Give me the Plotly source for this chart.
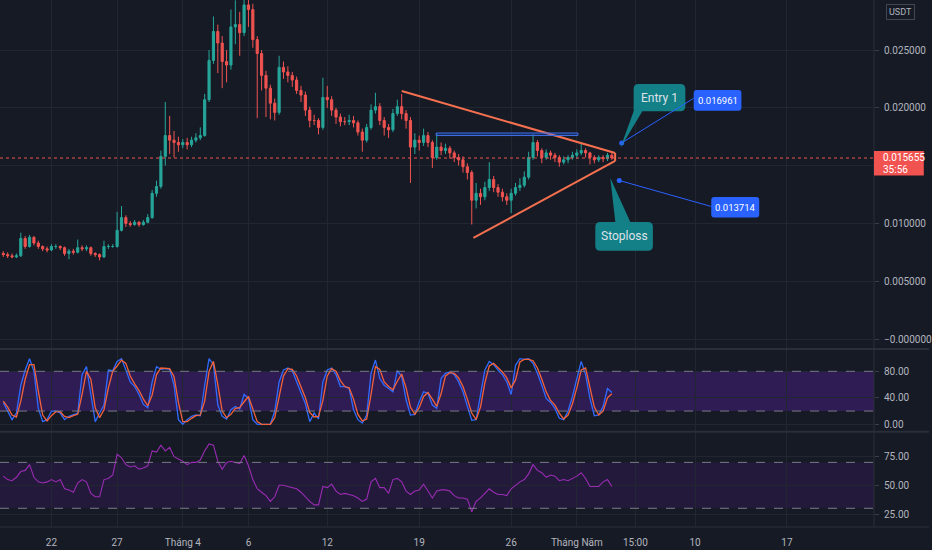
import pandas as pd
import plotly.graph_objects as go
from plotly.subplots import make_subplots

# 8h bars
times = pd.date_range("2021-03-18 08:00", periods=140, freq="8h")

close = [
    0.0073, 0.0072, 0.0071, 0.0072, 0.0087, 0.0080, 0.0088, 0.0083, 0.0080, 0.0078,
    0.0077, 0.0080, 0.0080, 0.0079, 0.0074, 0.0076, 0.0075, 0.0079, 0.0078, 0.0079,
    0.0074, 0.0073, 0.0071, 0.0080, 0.0080, 0.0080, 0.0094, 0.0105, 0.0100, 0.0099,
    0.0101, 0.0099, 0.0101, 0.0105, 0.0126, 0.0132, 0.0158, 0.0176, 0.0172, 0.0170,
    0.0168, 0.0170, 0.0168, 0.0172, 0.0174, 0.0176, 0.0207, 0.0241, 0.0266, 0.0256,
    0.0240, 0.0237, 0.0270, 0.0272, 0.0265, 0.0289, 0.0285, 0.0259, 0.0247, 0.0228,
    0.0217, 0.0204, 0.0196, 0.0235, 0.0231, 0.0228, 0.0224, 0.0215, 0.0211, 0.0198,
    0.0189, 0.0189, 0.0183, 0.0209, 0.0207, 0.0198, 0.0192, 0.0188, 0.0188, 0.0189,
    0.0187, 0.0179, 0.0172, 0.0183, 0.0198, 0.0201, 0.0189, 0.0183, 0.0181, 0.0195,
    0.0201, 0.0195, 0.0189, 0.0166, 0.0172, 0.0170, 0.0176, 0.0170, 0.0157, 0.0166,
    0.0163, 0.0165, 0.0161, 0.0157, 0.0155, 0.0149, 0.0144, 0.0120, 0.0126, 0.0123,
    0.0131, 0.0138, 0.0131, 0.0127, 0.0123, 0.0120, 0.0126, 0.0131, 0.0133, 0.0140,
    0.0157, 0.0170, 0.0163, 0.0157, 0.0161, 0.0159, 0.0157, 0.0153, 0.0155, 0.0157,
    0.0159, 0.0161, 0.0163, 0.0161, 0.0157, 0.0155, 0.0157, 0.0156, 0.0159, 0.015655,
]
high = [
    0.0076, 0.0075, 0.0074, 0.0074, 0.0092, 0.0089, 0.0090, 0.0089, 0.0085, 0.0081,
    0.0080, 0.0082, 0.0082, 0.0081, 0.0080, 0.0078, 0.0078, 0.0086, 0.0081, 0.0081,
    0.0080, 0.0075, 0.0074, 0.0085, 0.0082, 0.0082, 0.0110, 0.0115, 0.0107, 0.0102,
    0.0103, 0.0102, 0.0103, 0.0108, 0.0129, 0.0137, 0.0163, 0.0205, 0.0193, 0.0180,
    0.0175, 0.0173, 0.0174, 0.0175, 0.0178, 0.0183, 0.0212, 0.0250, 0.0279, 0.0272,
    0.0262, 0.0250, 0.0285, 0.0293, 0.0283, 0.0300, 0.0300, 0.0290, 0.0262, 0.0250,
    0.0232, 0.0220, 0.0208, 0.0245, 0.0240, 0.0236, 0.0231, 0.0227, 0.0219, 0.0214,
    0.0201, 0.0194, 0.0191, 0.0226, 0.0219, 0.0210, 0.0200, 0.0195, 0.0192, 0.0194,
    0.0193, 0.0189, 0.0182, 0.0186, 0.0203, 0.0213, 0.0204, 0.0192, 0.0186, 0.0199,
    0.0207, 0.0212, 0.0198, 0.0192, 0.0178, 0.0176, 0.0182, 0.0179, 0.0172, 0.0178,
    0.0170, 0.0169, 0.0167, 0.0163, 0.0160, 0.0158, 0.0152, 0.0146, 0.0135, 0.0130,
    0.0136, 0.0153, 0.0141, 0.0134, 0.0130, 0.0126, 0.0130, 0.0135, 0.0139, 0.0145,
    0.0162, 0.0177, 0.0172, 0.0165, 0.0164, 0.0163, 0.0161, 0.0159, 0.0158, 0.0159,
    0.0162, 0.0164, 0.0169, 0.0165, 0.0162, 0.0159, 0.0159, 0.0159, 0.0161, 0.0161,
]
low = [
    0.0071, 0.0070, 0.0070, 0.0070, 0.0071, 0.0078, 0.0079, 0.0081, 0.0078, 0.0076,
    0.0075, 0.0076, 0.0078, 0.0077, 0.0072, 0.0069, 0.0073, 0.0074, 0.0076, 0.0076,
    0.0072, 0.0071, 0.0068, 0.0070, 0.0078, 0.0079, 0.0079, 0.0093, 0.0097, 0.0097,
    0.0098, 0.0097, 0.0098, 0.0100, 0.0104, 0.0123, 0.0130, 0.0150, 0.0160, 0.0157,
    0.0162, 0.0165, 0.0164, 0.0166, 0.0170, 0.0172, 0.0175, 0.0205, 0.0238, 0.0230,
    0.0217, 0.0222, 0.0233, 0.0255, 0.0245, 0.0262, 0.0270, 0.0252, 0.0191, 0.0215,
    0.0192, 0.0190, 0.0189, 0.0194, 0.0225, 0.0222, 0.0218, 0.0212, 0.0205, 0.0193,
    0.0183, 0.0185, 0.0177, 0.0181, 0.0200, 0.0193, 0.0186, 0.0184, 0.0185, 0.0185,
    0.0183, 0.0176, 0.0162, 0.0170, 0.0181, 0.0195, 0.0185, 0.0176, 0.0174, 0.0179,
    0.0193, 0.0190, 0.0182, 0.0135, 0.0160, 0.0163, 0.0167, 0.0166, 0.0148, 0.0155,
    0.0159, 0.0160, 0.0156, 0.0153, 0.0150, 0.0144, 0.0138, 0.0099, 0.0113, 0.0116,
    0.0120, 0.0128, 0.0127, 0.0123, 0.0119, 0.0116, 0.0109, 0.0124, 0.0128, 0.0131,
    0.0138, 0.0155, 0.0158, 0.0152, 0.0155, 0.0155, 0.0153, 0.0149, 0.0151, 0.0152,
    0.0155, 0.0156, 0.0159, 0.0157, 0.0151, 0.0152, 0.0153, 0.0153, 0.0154, 0.0155,
]
first_open = 0.0074
open_ = [first_open] + close[:-1]

stoch_k = [
    33, 20, 7, 17, 59, 82, 99, 80, 24, 4, 7, 20, 20, 17, 7, 12, 14, 17, 75, 87,
    45, 4, 17, 29, 82, 81, 95, 99, 82, 64, 57, 45, 30, 25, 64, 87, 83, 84, 83, 59,
    7, 0, 7, 12, 14, 13, 59, 99, 90, 29, 12, 8, 22, 27, 23, 45, 39, 7, 0, 0,
    0, 0, 20, 64, 82, 85, 81, 64, 49, 31, 4, 17, 8, 64, 82, 85, 75, 57, 57, 54,
    22, 7, 2, 14, 77, 97, 69, 59, 54, 49, 81, 72, 37, 14, 15, 34, 49, 47, 29, 24,
    69, 77, 79, 75, 64, 49, 27, 6, 7, 45, 82, 95, 90, 82, 75, 64, 45, 89, 99, 98,
    99, 92, 77, 59, 39, 33, 24, 9, 7, 20, 42, 69, 95, 75, 39, 13, 14, 27, 54, 48,
]
stoch_d = [
    35, 26, 14, 11, 35, 68, 90, 90, 50, 14, 5, 13, 19, 19, 12, 10, 13, 15, 45, 80,
    68, 25, 10, 22, 55, 80, 88, 97, 92, 73, 61, 51, 38, 28, 44, 75, 85, 84, 84, 72,
    33, 4, 4, 9, 13, 14, 35, 80, 95, 60, 20, 10, 15, 24, 25, 34, 42, 23, 4, 0,
    0, 0, 10, 42, 73, 84, 83, 73, 57, 40, 18, 11, 12, 36, 73, 84, 80, 66, 57, 55,
    38, 15, 5, 8, 45, 87, 83, 64, 57, 52, 65, 76, 55, 26, 15, 25, 42, 48, 38, 27,
    46, 73, 78, 77, 70, 57, 38, 17, 7, 26, 63, 88, 92, 86, 79, 70, 55, 67, 94, 98,
    98, 96, 85, 68, 49, 36, 29, 17, 8, 14, 31, 55, 82, 85, 57, 26, 14, 20, 40, 46,
]
rsi = [
    58, 55, 54, 57, 62, 63, 68, 57, 53, 52, 53, 55, 53, 55, 47, 46, 44, 52, 55, 53,
    43, 40, 40, 55, 56, 59, 77, 74, 68, 66, 67, 64, 65, 67, 80, 79, 85, 80, 83, 75,
    73, 71, 68, 70, 70, 72, 80, 86, 85, 71, 64, 70, 71, 70, 69, 76, 67, 55, 47, 44,
    41, 36, 40, 50, 50, 49, 48, 47, 44, 40, 36, 33, 33, 49, 48, 51, 45, 42, 43, 42,
    41, 39, 36, 38, 53, 56, 48, 48, 43, 55, 56, 53, 45, 42, 45, 46, 51, 45, 39, 45,
    46, 46, 45, 41, 39, 39, 38, 27, 36, 39, 43, 47, 44, 42, 42, 41, 47, 50, 53, 55,
    60, 68, 63, 61, 57, 59, 58, 54, 55, 54, 56, 58, 61, 56, 49, 49, 49, 53, 55, 49,
]

last_price = 0.015655
countdown = "35:56"
entry_price = 0.016961
stop_price = 0.013714
entry_time = "2021-05-04 10:00"
stop_time = "2021-05-04 05:30"

# drawings
upper_t = ["2021-04-17 16:00", "2021-05-03 22:00"]
upper_p = [0.02145, 0.01609]
lower_t = ["2021-04-23 03:00", "2021-05-03 22:00"]
lower_p = [0.00874, 0.01540]
range_t = ["2021-04-20 07:00", "2021-05-01 02:00"]
range_p = [0.01760, 0.01782]
entry_tip = ("2021-05-04 07:30", 0.016522)
stop_tip = ("2021-05-03 13:10", 0.013927)

tick_dates = ["2021-03-22", "2021-03-27", "2021-04-01", "2021-04-06", "2021-04-12",
              "2021-04-19", "2021-04-26", "2021-05-01", "2021-05-05 11:00",
              "2021-05-10", "2021-05-17"]
tick_labels = ["22", "27", "Tháng 4", "6", "12", "19", "26", "Tháng Năm", "15:00",
               "10", "17"]

BG = "#161a25"
GRID = "#222631"
TXT = "#b2b5be"
UP = "#26a69a"
DOWN = "#ef5350"
TREND = "#f5704f"
BLUE = "#2962ff"
TEAL = "#137f87"
SEP = "#2a2e39"
FONT = "Roboto"

fig = make_subplots(rows=3, cols=1, shared_xaxes=True, vertical_spacing=0)

fig.add_trace(go.Candlestick(
    x=times, open=open_, high=high, low=low, close=close,
    increasing=dict(line=dict(color=UP, width=1), fillcolor=UP),
    decreasing=dict(line=dict(color=DOWN, width=1), fillcolor=DOWN),
    whiskerwidth=0, showlegend=False, hoverinfo="skip"), row=1, col=1)

fig.add_trace(go.Scatter(x=[entry_time, stop_time], y=[entry_price, stop_price],
                         mode="markers", marker=dict(size=5, color=BLUE),
                         showlegend=False, hoverinfo="skip"), row=1, col=1)

fig.add_trace(go.Scatter(x=times, y=stoch_k, mode="lines",
                         line=dict(color="#2f6bff", width=1.3),
                         showlegend=False, hoverinfo="skip"), row=2, col=1)
fig.add_trace(go.Scatter(x=times, y=stoch_d, mode="lines",
                         line=dict(color="#f4623a", width=1.3),
                         showlegend=False, hoverinfo="skip"), row=2, col=1)

fig.add_trace(go.Scatter(x=times, y=rsi, mode="lines",
                         line=dict(color="#9a2bb3", width=1.1),
                         showlegend=False, hoverinfo="skip"), row=3, col=1)


def rrect(x0, y0, x1, y1, r):
    return (f"M {x0 + r},{y0} L {x1 - r},{y0} Q {x1},{y0} {x1},{y0 + r} "
            f"L {x1},{y1 - r} Q {x1},{y1} {x1 - r},{y1} L {x0 + r},{y1} "
            f"Q {x0},{y1} {x0},{y1 - r} L {x0},{y0 + r} Q {x0},{y0} {x0 + r},{y0} Z")


def pix_shape(anchor, path, fill=None, line_color=None, width=0):
    d = dict(type="path", xref="x", yref="y", xsizemode="pixel", ysizemode="pixel",
             xanchor=anchor[0], yanchor=anchor[1], path=path,
             line=dict(width=width, color=line_color or "rgba(0,0,0,0)"))
    if fill:
        d["fillcolor"] = fill
    return d


shapes = []
# indicator bands
shapes.append(dict(type="rect", xref="paper", yref="y2", x0=0, x1=1, y0=20, y1=80,
                   fillcolor="#301c55", line=dict(width=0), layer="below"))
shapes.append(dict(type="rect", xref="paper", yref="y3", x0=0, x1=1, y0=30, y1=70,
                   fillcolor="#231a3b", line=dict(width=0), layer="below"))
for yr, lv in [("y2", 80), ("y2", 20), ("y3", 70), ("y3", 30)]:
    shapes.append(dict(type="line", xref="paper", yref=yr, x0=0, x1=1, y0=lv, y1=lv,
                       line=dict(color="#787b86", width=1, dash="dash")))

# last price line
shapes.append(dict(type="line", xref="paper", yref="y", x0=0, x1=1,
                   y0=last_price, y1=last_price,
                   line=dict(color=DOWN, width=1, dash="dot")))

# triangle + range box
shapes.append(dict(type="line", xref="x", yref="y", x0=upper_t[0], x1=upper_t[1],
                   y0=upper_p[0], y1=upper_p[1], line=dict(color=TREND, width=2)))
shapes.append(dict(type="line", xref="x", yref="y", x0=lower_t[0], x1=lower_t[1],
                   y0=lower_p[0], y1=lower_p[1], line=dict(color=TREND, width=2)))
shapes.append(dict(type="line", xref="x", yref="y", x0=upper_t[1], x1=lower_t[1],
                   y0=upper_p[1], y1=lower_p[1], line=dict(color=TREND, width=2)))
shapes.append(dict(type="rect", xref="x", yref="y", x0=range_t[0], x1=range_t[1],
                   y0=range_p[0], y1=range_p[1], fillcolor="rgba(41,98,255,0.25)",
                   line=dict(color="#3d6fe8", width=1)))

# callouts
shapes.append(pix_shape(entry_tip,
                        "M 0,0 L 22,36.7 L 60,36.7 Q 65,36.7 65,41.7 L 65,59 "
                        "Q 65,64 60,64 L 18.3,64 Q 13.3,64 13.3,59 L 13.3,36.7 Z",
                        fill=TEAL))
shapes.append(pix_shape(stop_tip,
                        "M 0,0 L 20,-44 L 37.6,-44 Q 42.6,-44 42.6,-49 L 42.6,-67.7 "
                        "Q 42.6,-72.7 37.6,-72.7 L -10,-72.7 Q -15,-72.7 -15,-67.7 "
                        "L -15,-49 Q -15,-44 -10,-44 L 5,-44 Z", fill=TEAL))

# price labels with leader lines
entry_anchor = (entry_time, entry_price)
stop_anchor = (stop_time, stop_price)
shapes.append(pix_shape(entry_anchor, "M 0,0 L 72,44.7", line_color=BLUE, width=1))
shapes.append(pix_shape(entry_anchor, rrect(72, 32.3, 119.7, 53, 3), fill=BLUE))
shapes.append(pix_shape(stop_anchor, "M 0,0 L 92,-26", line_color=BLUE, width=1))
shapes.append(pix_shape(stop_anchor, rrect(92, -37, 140, -16.6, 3), fill=BLUE))

# pane separators and scale border
for yp in [0.33776, 0.18083]:
    shapes.append(dict(type="line", xref="paper", yref="paper", x0=0, x1=1.063,
                       y0=yp, y1=yp, line=dict(color=SEP, width=2)))
shapes.append(dict(type="line", xref="paper", yref="paper", x0=0, x1=1.063,
                   y0=0, y1=0, line=dict(color=SEP, width=1)))
shapes.append(dict(type="line", xref="paper", yref="paper", x0=1, x1=1,
                   y0=0, y1=1, line=dict(color=SEP, width=1)))

# last price tag on the scale
shapes.append(dict(type="rect", xref="paper", yref="paper", x0=1.0, x1=1.057,
                   y0=0.667, y1=0.7135, fillcolor="#f05350", line=dict(width=0)))

annotations = [
    dict(x=entry_tip[0], y=entry_tip[1], xref="x", yref="y", xshift=39.2, yshift=50.3,
         text="Entry 1", showarrow=False, font=dict(family=FONT, size=12, color="#dfe2e8")),
    dict(x=stop_tip[0], y=stop_tip[1], xref="x", yref="y", xshift=13.8, yshift=-58.3,
         text="Stoploss", showarrow=False, font=dict(family=FONT, size=12, color="#dfe2e8")),
    dict(x=entry_anchor[0], y=entry_anchor[1], xref="x", yref="y", xshift=95.9, yshift=42.6,
         text=f"{entry_price:.6f}", showarrow=False,
         font=dict(family=FONT, size=9.5, color="#ffffff")),
    dict(x=stop_anchor[0], y=stop_anchor[1], xref="x", yref="y", xshift=116, yshift=-26.8,
         text=f"{stop_price:.6f}", showarrow=False,
         font=dict(family=FONT, size=9.5, color="#ffffff")),
    dict(x=1.008, y=0.7002, xref="paper", yref="paper", xanchor="left", yanchor="middle",
         text=f"{last_price:.6f}", showarrow=False,
         font=dict(family=FONT, size=10, color="#ffffff")),
    dict(x=1.008, y=0.6784, xref="paper", yref="paper", xanchor="left", yanchor="middle",
         text=countdown, showarrow=False,
         font=dict(family=FONT, size=10, color="#ffffff")),
    dict(x=1.0304, y=0.9767, xref="paper", yref="paper", xanchor="center", yanchor="middle",
         text="USDT", showarrow=False, bordercolor="#434651", borderwidth=1, borderpad=2,
         font=dict(family=FONT, size=9, color=TXT)),
]

fig.update_layout(
    width=932, height=550,
    margin=dict(l=0, r=55, t=0, b=23),
    paper_bgcolor=BG, plot_bgcolor=BG,
    showlegend=False,
    shapes=shapes, annotations=annotations,
    font=dict(family=FONT, size=10, color=TXT),
    xaxis_rangeslider_visible=False,
    hovermode=False,
)

x_range = ["2021-03-18 02:00", "2021-05-23 15:00"]
fig.update_xaxes(range=x_range, showgrid=True, gridcolor=GRID, gridwidth=1,
                 tickvals=tick_dates, ticktext=tick_labels, zeroline=False,
                 showline=False, ticks="", showticklabels=False)
fig.update_xaxes(showticklabels=True, tickfont=dict(family=FONT, size=10, color=TXT),
                 ticks="outside", ticklen=6, tickcolor="rgba(0,0,0,0)", row=3, col=1)
fig.update_xaxes(rangeslider_visible=False, row=1, col=1)

yaxis_common = dict(side="right", showgrid=True, gridcolor=GRID, zeroline=False,
                    ticks="outside", ticklen=4, tickcolor="#3a3e49",
                    ticklabelstandoff=3,
                    tickfont=dict(family=FONT, size=10, color=TXT), showline=False)
fig.update_layout(
    yaxis=dict(domain=[0.33776, 1], range=[-0.000865, 0.029325],
               tickvals=[0, 0.005, 0.01, 0.015, 0.02, 0.025],
               ticktext=["\u22120.000000", "0.005000", "0.010000", "", "0.020000", "0.025000"],
               **yaxis_common),
    yaxis2=dict(domain=[0.18083, 0.33776], range=[-11.2, 113.7],
                tickvals=[0, 40, 80], ticktext=["0.00", "40.00", "80.00"], **yaxis_common),
    yaxis3=dict(domain=[0, 0.18083], range=[13.7, 96.7],
                tickvals=[25, 50, 75], ticktext=["25.00", "50.00", "75.00"], **yaxis_common),
)

# drop the page's default body margin so the figure sits at the window origin
fig.write_html("out.html",
               config={"displayModeBar": False},
               post_script="document.body.style.margin='0';"
                           "document.body.style.background='#161a25';")
